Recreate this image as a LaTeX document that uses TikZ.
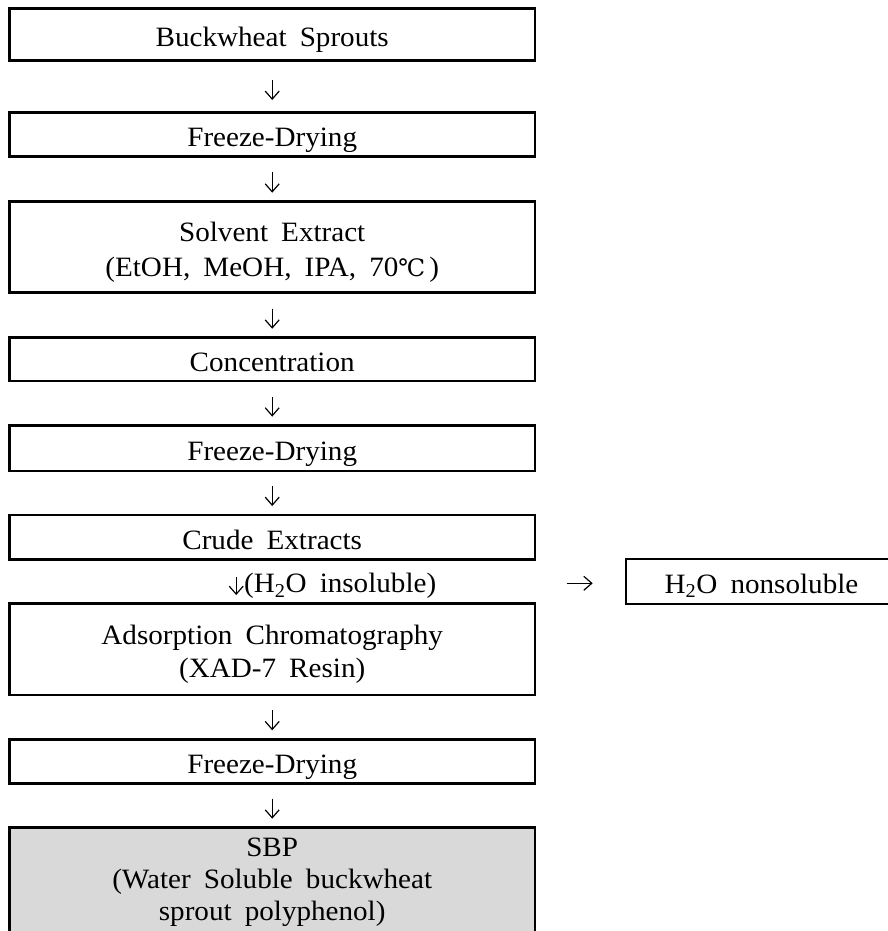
\documentclass[tikz,border=0pt]{standalone}
\usepackage{fontspec}
\setmainfont{Liberation Serif}[FakeStretch=1.04, WordSpace=1.8]
\newfontfamily\unitfont{DejaVu Serif}
\usetikzlibrary{arrows.meta}
\definecolor{sbpfill}{RGB}{217,217,217}
% first-line strut and fixed-depth last line for multi-line boxes
\newcommand{\toprowstrut}{\rule{0pt}{24pt}}
\newcommand{\lastrow}[2]{\raisebox{0pt}[\height][#1]{#2}}
\tikzset{
  basebox/.style={draw, line width=2.8pt, minimum width=525.7pt, inner sep=0pt,
    align=center, font=\fontsize{28}{33}\selectfont},
  stepbox/.style={basebox, text height=24pt, text depth=0pt},
  multibox/.style={basebox},
  sidebox/.style={draw, line width=2.8pt, minimum width=271pt, minimum height=45pt,
    inner sep=0pt, text height=24pt, text depth=0pt,
    font=\fontsize{28}{33}\selectfont},
  label/.style={inner sep=0pt, font=\fontsize{28}{33}\selectfont},
  flow/.style={line width=1.2pt, -{Straight Barb[length=8pt,width=14pt,line width=1.2pt]}},
}
\begin{document}
\begin{tikzpicture}[x=1pt, y=-1pt]
  \useasboundingbox (0,0) rectangle (888,931);
  \clip (0,0) rectangle (888,931);

  % main process column
  \node[stepbox, minimum height=52.2pt] (b1) at (272.2,34.6) {Buckwheat Sprouts};
  \node[stepbox, minimum height=44pt]   (b2) at (272.2,134.7) {Freeze-Drying};
  \node[multibox, minimum height=90.8pt, font=\fontsize{28}{35}\selectfont]
        (b3) at (272.2,246.9)
        {\toprowstrut Solvent Extract\\\lastrow{0pt}{(EtOH, MeOH, IPA, 70{\unitfont\fontsize{24}{30}\selectfont ℃}\hspace{4pt})}};
  \node[stepbox, minimum height=43.3pt] (b4) at (272.2,359.4) {Concentration};
  \node[stepbox, minimum height=45.3pt] (b5) at (272.2,448.3) {Freeze-Drying};
  \node[stepbox, minimum height=44.3pt] (b6) at (272.2,537.2) {Crude Extracts};
  \node[multibox, minimum height=91.5pt] (b7) at (272.2,649.3)
        {\toprowstrut Adsorption Chromatography\\\lastrow{0pt}{(XAD-7 Resin)}};
  \node[stepbox, minimum height=44.4pt] (b8) at (272.2,761.5) {Freeze-Drying};
  \node[multibox, fill=sbpfill, minimum height=110pt, font=\fontsize{28}{32}\selectfont]
        (b9) at (272.2,882.7)
        {\toprowstrut SBP\\(Water Soluble buckwheat\\\lastrow{11.6pt}{sprout polyphenol)}};

  % side branch
  \node[label, anchor=base west] (insol) at (244,592.7) {(H\textsubscript{2}O insoluble)};
  \node[sidebox] (nons) at (761.5,581.5) {H\textsubscript{2}O nonsoluble};
  \coordinate (sidetail) at (566.7,583.3);

  % step arrows
  \draw[flow, shorten <=17.9pt, shorten >=11.3pt] (b1) -- (b2);
  \draw[flow, shorten <=13.6pt, shorten >=7.4pt]  (b2) -- (b3);
  \draw[flow, shorten <=15pt,   shorten >=7.6pt]  (b3) -- (b4);
  \draw[flow, shorten <=14.3pt, shorten >=7.6pt]  (b4) -- (b5);
  \draw[flow, shorten <=13.6pt, shorten >=7.6pt]  (b5) -- (b6);
  \draw[flow, shorten <=16pt,   shorten >=7.1pt]  ([xshift=-36pt]b6.south) -- ([xshift=-36pt]b7.north);
  \draw[flow, shorten <=13.9pt, shorten >=7.6pt]  (b7) -- (b8);
  \draw[flow, shorten <=13.6pt, shorten >=7.6pt]  (b8) -- (b9);
  \draw[flow, shorten >=31.9pt] (sidetail) -- (sidetail -| nons.west);
\end{tikzpicture}
\end{document}
